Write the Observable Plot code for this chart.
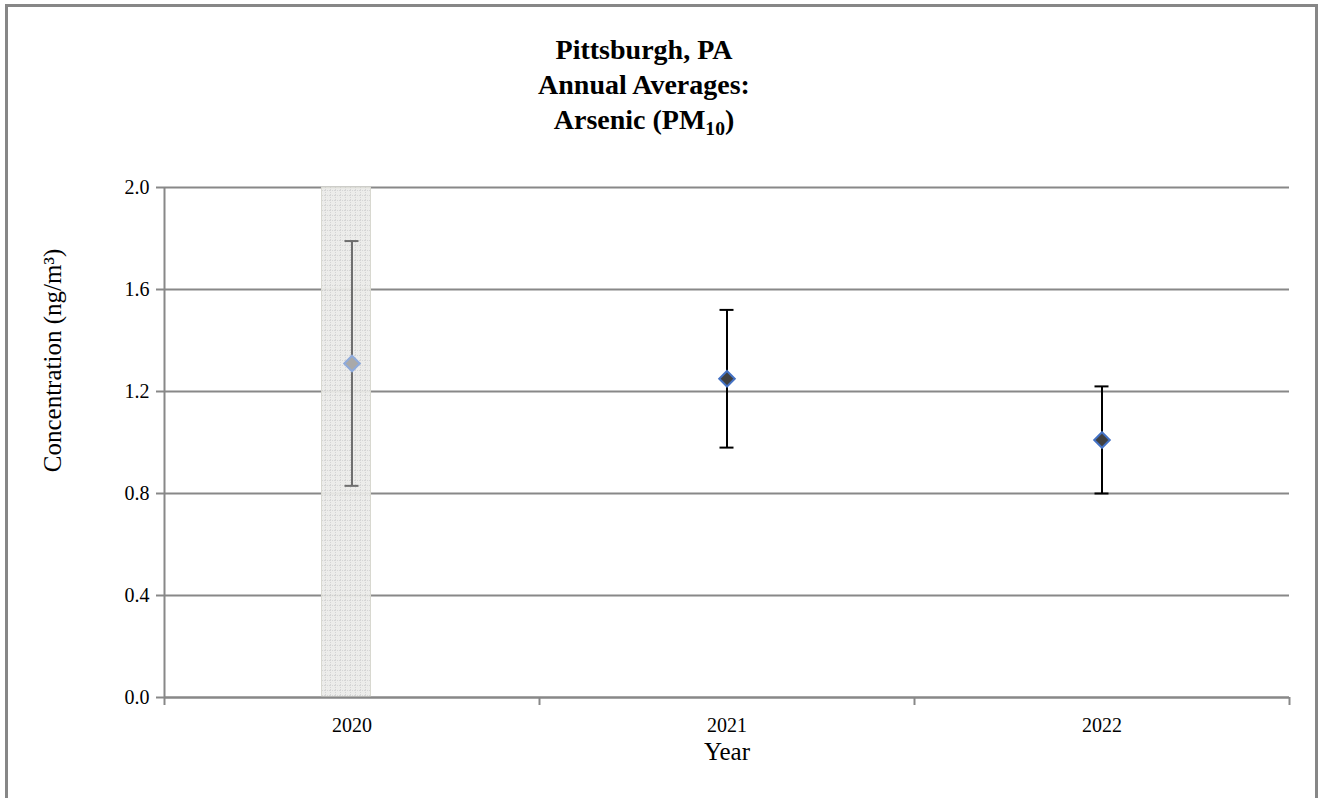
<!DOCTYPE html>
<html>
<head>
<meta charset="utf-8">
<script src="https://cdn.jsdelivr.net/npm/d3@7"></script>
<script src="https://cdn.jsdelivr.net/npm/@observablehq/plot@0.6"></script>
<style>
  html, body { margin: 0; padding: 0; background: #fff; }
  #wrap { position: relative; width: 1320px; height: 798px; overflow: hidden; font-family: "Liberation Serif", "Times New Roman", serif; }
  #border { position: absolute; left: 5px; top: 4px; width: 1313px; height: 900px; border: 3px solid #878787; box-sizing: border-box; }
  #title { position: absolute; left: 0; top: 32px; width: 1288px; text-align: center; font-weight: bold; font-size: 28px; line-height: 35px; color: #000; }
  #title sub { font-size: 0.7em; vertical-align: -0.3em; line-height: 0; }
  #chart { position: absolute; left: 0; top: 0; }
</style>
</head>
<body>
<div id="wrap">
  <div id="border"></div>
  <div id="chart"></div>
  <div id="title">Pittsburgh, PA<br>Annual Averages:<br>Arsenic (PM<sub>10</sub>)</div>
</div>
<script>
// ---- data ----
const years = [2020, 2021, 2022];
const means = [1.31, 1.25, 1.01];
const lower = [0.83, 0.98, 0.80];
const upper = [1.79, 1.52, 1.22];
const shaded = [true, false, false];   // greyed-out (incomplete) year
const yTicks = [0, 0.4, 0.8, 1.2, 1.6, 2.0];
const yLabel = "Concentration (ng/m³)";
const xLabel = "Year";

const data = years.map((year, i) => ({year, mean: means[i], lo: lower[i], hi: upper[i], shaded: shaded[i]}));
const xMin = d3.min(years) - 0.5, xMax = d3.max(years) + 0.5;
const yMin = d3.min(yTicks), yMax = d3.max(yTicks);
const boundaries = d3.range(xMin, xMax + 0.001, 1);
const grey = "#888888";

const chart = Plot.plot({
  width: 1320,
  height: 798,
  marginLeft: 164,
  marginRight: 31,
  marginTop: 187,
  marginBottom: 101,
  style: {fontFamily: "Liberation Serif, Times New Roman, serif", fontSize: "20px", color: "#000", background: "transparent"},
  x: {domain: [xMin, xMax]},
  y: {domain: [yMin, yMax]},
  marks: [
    // gridlines
    Plot.ruleY(yTicks, {x1: xMin, x2: xMax, stroke: grey, strokeWidth: 2}),
    // shaded band for the greyed year
    Plot.rect(data.filter(d => d.shaded), {x1: "year", x2: "year", y1: yMin, y2: yMax, insetLeft: -30, insetRight: -19, fill: "url(#bandpat)", fillOpacity: 0.93, stroke: "#d8d8d0", strokeWidth: 1}),
    // axis lines
    Plot.ruleX([xMin], {y1: yMin, y2: yMax, stroke: grey, strokeWidth: 2}),
    Plot.ruleY([yMin], {x1: xMin, x2: xMax, stroke: grey, strokeWidth: 2}),
    // y axis ticks + labels
    Plot.axisY({ticks: yTicks, tickFormat: d3.format(".1f"), tickSize: 8, tickPadding: 7, stroke: grey, strokeWidth: 2, fill: "#000", label: null, fontSize: 20}),
    // x axis boundary ticks
    Plot.axisX({ticks: boundaries, tickFormat: () => "", tickSize: 8, stroke: grey, strokeWidth: 2, label: null}),
    // x axis category labels
    Plot.axisX({ticks: years, tickFormat: d => String(d), tickSize: 0, tickPadding: 20, fill: "#000", label: null, fontSize: 20}),
    // error bars
    Plot.ruleX(data, {x: "year", y1: "lo", y2: "hi", stroke: d => d.shaded ? "#6e6e6e" : "#000", strokeWidth: 2, strokeDasharray: d => d.shaded ? "2,1" : null}),
    Plot.ruleY(data, {x1: "year", x2: "year", y: "hi", insetLeft: -7, insetRight: -7, stroke: d => d.shaded ? "#6e6e6e" : "#000", strokeWidth: 2}),
    Plot.ruleY(data, {x1: "year", x2: "year", y: "lo", insetLeft: -7, insetRight: -7, stroke: d => d.shaded ? "#6e6e6e" : "#000", strokeWidth: 2}),
    // markers
    Plot.dot(data, {x: "year", y: "mean", symbol: "diamond2", r: 7, fill: d => d.shaded ? "#a9a9a9" : "#404040", stroke: d => d.shaded ? "#8eaadb" : "#4472c4", strokeWidth: 2, fillOpacity: 1}),
    // axis titles
    Plot.text([xLabel], {frameAnchor: "bottom", dy: 62, fontSize: 25, fill: "#000"}),
    Plot.text([yLabel], {frameAnchor: "left", textAnchor: "middle", dx: -112, dy: -82, rotate: -90, fontSize: 25, fill: "#000"})
  ]
});

// pattern for the shaded band
const defs = `<defs><pattern id="bandpat" width="5" height="5" patternUnits="userSpaceOnUse">
  <rect width="5" height="5" fill="#ebebe8"/>
  <path d="M0 0.5H5M0.5 0V5" stroke="#d2d2d2" stroke-width="1" stroke-dasharray="1,1"/>
</pattern></defs>`;
chart.insertAdjacentHTML("afterbegin", defs);
document.getElementById("chart").appendChild(chart);
</script>
</body>
</html>
